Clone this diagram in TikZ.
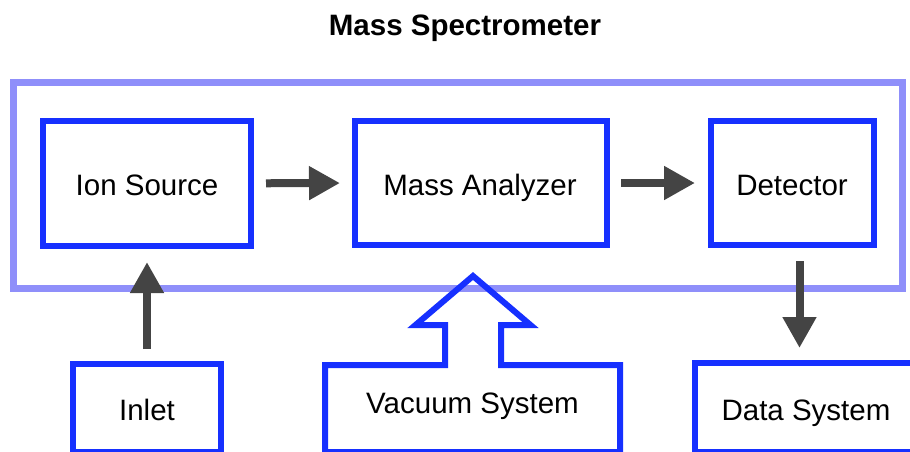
\documentclass[tikz,border=0pt]{standalone}
\usepackage{fontspec}
\setmainfont{Liberation Sans}
\usetikzlibrary{arrows.meta}
\definecolor{boxblue}{RGB}{22,48,255}
\definecolor{frameblue}{RGB}{143,143,250}
\definecolor{arrowgray}{RGB}{68,68,68}
\begin{document}
\begin{tikzpicture}[x=1pt,y=-1pt,
  blockbox/.style={draw=boxblue,line width=6pt,rectangle,inner sep=0pt,outer sep=0pt},
  lbl/.style={font=\fontsize{29.5}{34}\selectfont,text=black,inner sep=0pt,anchor=base},
  flowarrow/.style={draw=arrowgray,line width=8pt,-{Triangle[width=32pt,length=31pt]},arrowgray}
]
\useasboundingbox (0,0) rectangle (910,451);
% title
\node[lbl,font=\fontsize{29.5}{34}\selectfont\bfseries] (title) at (465,35) {Mass Spectrometer};
% outer frame
\node[draw=frameblue,line width=7pt,rectangle,inner sep=0pt,outer sep=0pt,minimum width=889pt,minimum height=206pt] (frame) at (457.5,185) {};
% top boxes
\node[blockbox,minimum width=208pt,minimum height=124.5pt] (ion) at (147,183.3) {};
\node[blockbox,minimum width=252pt,minimum height=124pt] (mass) at (481,183) {};
\node[blockbox,minimum width=163pt,minimum height=124pt] (det) at (792.5,183) {};
\node[lbl] (iontxt) at (147,195) {Ion Source};
\node[lbl] (masstxt) at (480,195) {Mass Analyzer};
\node[lbl] (dettxt) at (792,195) {Detector};
% bottom boxes (cut by the picture edge)
\begin{scope}
\clip (0,0) rectangle (910,451);
\node[blockbox,minimum width=148pt,minimum height=88pt,anchor=north] (inlet) at (147,364) {};
\node[blockbox,minimum width=240pt,minimum height=89pt,anchor=north west] (data) at (695,363) {};
\draw[draw=boxblue,line width=6pt,line join=miter]
  (325,452) -- (325,365) -- (445,365) -- (445,325) -- (415.5,325) -- (473,276)
  -- (530.5,325) -- (501,325) -- (501,365) -- (620,365) -- (620,452) -- cycle;
\coordinate (vac) at (473,365);
\end{scope}
\node[lbl] (inlettxt) at (147,420) {Inlet};
\node[lbl] (vactxt) at (472.5,413) {Vacuum System};
\node[lbl] (datatxt) at (806,420) {Data System};
% connectors
\draw[flowarrow,shorten <=15pt,shorten >=15pt] (ion.east) -- (mass.west);
\draw[flowarrow,shorten <=14pt,shorten >=16pt] (mass.east) -- (det.west);
\draw[flowarrow,shorten <=15pt,shorten >=16.5pt] (inlet.north) -- (ion.south);
\coordinate (dsrc) at ([xshift=7pt]det.south);
\draw[flowarrow,shorten <=16pt,shorten >=15pt] (dsrc) -- (dsrc |- data.north);
\end{tikzpicture}
\end{document}
